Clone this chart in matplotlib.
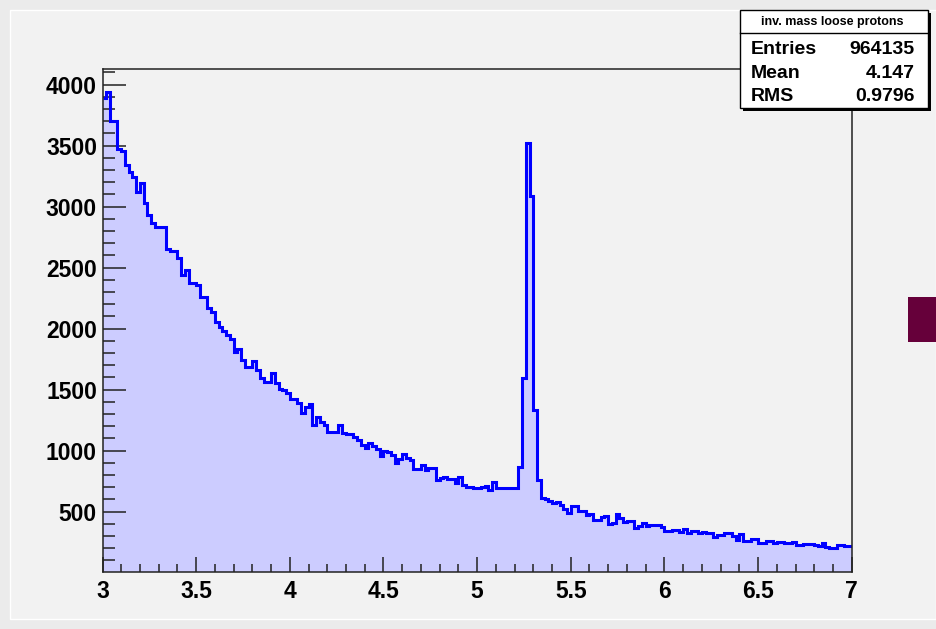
import numpy as np
import matplotlib
matplotlib.use("Agg")
import matplotlib.pyplot as plt
from matplotlib.patches import Rectangle
from matplotlib.ticker import MultipleLocator, FixedLocator

# ---------------- data ----------------
x_min, x_max, n_bins = 3.0, 7.0, 200
counts = [
    3888, 3937, 3705, 3705, 3470, 3460, 3342, 3287, 3246, 3123,
    3197, 3028, 2932, 2864, 2836, 2836, 2836, 2650, 2640, 2640,
    2577, 2440, 2481, 2372, 2372, 2358, 2263, 2263, 2167, 2140,
    2058, 2017, 1981, 1948, 1913, 1812, 1834, 1744, 1683, 1683,
    1735, 1662, 1593, 1566, 1566, 1640, 1558, 1503, 1498, 1470,
    1421, 1421, 1388, 1312, 1356, 1383, 1211, 1279, 1238, 1211,
    1156, 1156, 1150, 1211, 1143, 1134, 1134, 1115, 1088, 1047,
    1020, 1066, 1040, 1010, 960, 995, 992, 965, 902, 930,
    973, 937, 924, 847, 850, 883, 842, 856, 856, 760,
    774, 782, 765, 765, 733, 782, 719, 705, 705, 692,
    692, 700, 711, 678, 741, 692, 692, 692, 692, 692,
    692, 869, 1593, 3525, 3088, 1334, 760, 610, 600, 590,
    575, 577, 555, 520, 487, 547, 547, 508, 508, 473,
    481, 432, 432, 454, 465, 399, 410, 478, 446, 413,
    424, 424, 364, 383, 410, 383, 390, 391, 391, 372,
    342, 342, 350, 350, 336, 356, 323, 342, 342, 328,
    331, 328, 328, 290, 309, 309, 328, 328, 304, 268,
    315, 263, 263, 274, 274, 246, 246, 263, 263, 246,
    252, 252, 241, 241, 254, 227, 227, 235, 235, 235,
    224, 219, 241, 208, 200, 200, 224, 224, 219, 219,
]
x_ticks = [3, 3.5, 4, 4.5, 5, 5.5, 6, 6.5, 7]
x_tick_labels = ["3", "3.5", "4", "4.5", "5", "5.5", "6", "6.5", "7"]
y_ticks = [500, 1000, 1500, 2000, 2500, 3000, 3500, 4000]
stats_title = "inv. mass loose protons"
stats_labels = ["Entries", "Mean", "RMS"]
stats_values = ["964135", "4.147", "0.9796"]

# ---------------- figure ----------------
W, H = 936, 629
plt.rcParams['font.family'] = ['Liberation Sans', 'DejaVu Sans']
fig = plt.figure(figsize=(W / 100, H / 100), dpi=100, facecolor='#ebebeb')

def fx(px):
    return px / W

def fy(py):
    return 1 - py / H

# canvas
fig.add_artist(Rectangle((fx(10), fy(619)), fx(936) - fx(10), fy(10) - fy(619),
                         transform=fig.transFigure, facecolor='#f2f2f2',
                         edgecolor='white', linewidth=1.0, zorder=-10))
# maroon marker at right edge
fig.add_artist(Rectangle((fx(908), fy(342)), fx(936) - fx(908), fy(297) - fy(342),
                         transform=fig.transFigure, facecolor='#66003a',
                         edgecolor='none', zorder=-5))

ax_l, ax_r, ax_t, ax_b = 102.5, 851.7, 69.3, 571.7
ax = fig.add_axes([fx(ax_l), fy(ax_b), fx(ax_r) - fx(ax_l), fy(ax_t) - fy(ax_b)])
ax.set_facecolor('#f2f2f2')

edges = np.linspace(x_min, x_max, n_bins + 1)
vals = np.array(counts, dtype=float)
ax.stairs(vals, edges, fill=True, color='#ccccff', zorder=1)
ax.stairs(vals, edges, baseline=None, color='#0000ff', linewidth=2.2, zorder=2)

ax.set_xlim(x_min, x_max)
ax.set_ylim(8, 4126)

ax.xaxis.set_major_locator(FixedLocator(x_ticks))
ax.set_xticklabels(x_tick_labels)
ax.xaxis.set_minor_locator(MultipleLocator(0.1))
ax.yaxis.set_major_locator(FixedLocator(y_ticks))
ax.yaxis.set_minor_locator(FixedLocator(np.arange(100, 4200, 100)))

ax.tick_params(axis='both', which='both', direction='in', top=False, right=False,
               color='#222222', width=1.1)
ax.tick_params(axis='x', which='major', length=10.8, pad=6, labelsize=16.5)
ax.tick_params(axis='x', which='minor', length=5.8)
ax.tick_params(axis='y', which='major', length=16.3, pad=4, labelsize=16.5)
ax.tick_params(axis='y', which='minor', length=8.6)
for lab in ax.get_xticklabels() + ax.get_yticklabels():
    lab.set_fontweight('bold')
for sp in ax.spines.values():
    sp.set_linewidth(1.1)
    sp.set_color('#222222')
    sp.set_zorder(5)

# ---------------- stats box ----------------
bx0, bx1, by0, by1 = 740, 928, 10, 108
fig.add_artist(Rectangle((fx(bx0 + 3), fy(by1 + 3)), fx(bx1) - fx(bx0), fy(by0) - fy(by1),
                         transform=fig.transFigure, facecolor='black',
                         edgecolor='none', zorder=10))
fig.add_artist(Rectangle((fx(bx0), fy(by1)), fx(bx1) - fx(bx0), fy(by0) - fy(by1),
                         transform=fig.transFigure, facecolor='white',
                         edgecolor='black', linewidth=1.0, zorder=11))
fig.add_artist(plt.Line2D([fx(bx0), fx(bx1)], [fy(33), fy(33)],
                          transform=fig.transFigure, color='black', linewidth=1.0, zorder=12))
fig.text(fx(832.5), fy(21.7), stats_title, ha='center', va='center',
         fontsize=9, fontweight='bold', zorder=13)
row_y = [49.3, 74, 96.7]
for ry, lab, val in zip(row_y, stats_labels, stats_values):
    fig.text(fx(750.7), fy(ry), lab, ha='left', va='center', fontsize=14,
             fontweight='bold', zorder=13)
    fig.text(fx(915), fy(ry), val, ha='right', va='center', fontsize=14,
             fontweight='bold', zorder=13)

fig.savefig('out.png', dpi=100, facecolor=fig.get_facecolor())
